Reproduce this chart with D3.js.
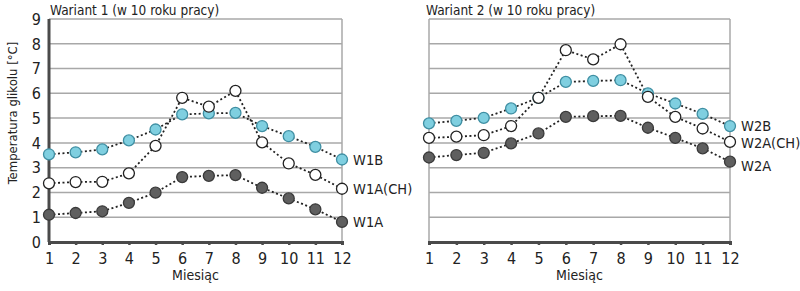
<!DOCTYPE html>
<html>
<head>
<meta charset="utf-8">
<script src="https://cdn.jsdelivr.net/npm/d3@7"></script>
<style>
  body { margin: 0; background: #fff; }
  text { font-family: "DejaVu Sans Condensed", "Liberation Sans Narrow", sans-serif; font-stretch: condensed; fill: #222; }
</style>
</head>
<body>
<div id="chart"></div>
<script>
// months and values
var months = [1, 2, 3, 4, 5, 6, 7, 8, 9, 10, 11, 12];
var yTicks = [0, 1, 2, 3, 4, 5, 6, 7, 8, 9];

var w1b   = [3.54, 3.62, 3.74, 4.10, 4.54, 5.15, 5.19, 5.21, 4.68, 4.27, 3.84, 3.33];
var w1ach = [2.37, 2.42, 2.43, 2.77, 3.88, 5.82, 5.46, 6.10, 4.02, 3.17, 2.71, 2.15];
var w1a   = [1.10, 1.17, 1.24, 1.58, 1.99, 2.62, 2.67, 2.70, 2.19, 1.76, 1.32, 0.81];

var w2b   = [4.79, 4.89, 5.01, 5.39, 5.82, 6.46, 6.50, 6.53, 6.00, 5.59, 5.17, 4.68];
var w2ach = [4.20, 4.25, 4.31, 4.68, 5.82, 7.74, 7.37, 7.98, 5.86, 5.05, 4.58, 4.04];
var w2a   = [3.41, 3.51, 3.60, 3.98, 4.38, 5.05, 5.08, 5.09, 4.61, 4.20, 3.78, 3.24];

var svgWidth = 800;
var svgHeight = 291;
var fontStack = '"DejaVu Sans Condensed", "Liberation Sans Narrow", sans-serif';

var svg = d3.select("#chart")
  .append("svg")
  .attr("width", svgWidth)
  .attr("height", svgHeight);

var styles = {
  B:  { fill: "#7fcfe0", stroke: "#3f8fa3" },
  CH: { fill: "#ffffff", stroke: "#222222" },
  A:  { fill: "#5f5f5f", stroke: "#3a3a3a" }
};

var y = d3.scaleLinear().domain([0, 9]).range([242, 19]);

function drawPanel(opts) {
  var x = d3.scaleLinear().domain([1, 12]).range([opts.x0, opts.x1]);
  var g = svg.append("g");

  // grid
  g.selectAll(".grid")
    .data(yTicks.filter(d => d > 0))
    .enter()
    .append("line")
    .attr("x1", opts.x0)
    .attr("x2", opts.x1)
    .attr("y1", d => y(d))
    .attr("y2", d => y(d))
    .attr("stroke", "#a8a8a8")
    .attr("stroke-width", 1.5);

  // right border
  g.append("line")
    .attr("x1", opts.x1).attr("x2", opts.x1)
    .attr("y1", y(9)).attr("y2", y(0))
    .attr("stroke", "#a8a8a8").attr("stroke-width", 1.5);

  // left border / axis
  g.append("line")
    .attr("x1", opts.x0).attr("x2", opts.x0)
    .attr("y1", y(9)).attr("y2", y(0))
    .attr("stroke", opts.showY ? "#4a4a4a" : "#a8a8a8")
    .attr("stroke-width", opts.showY ? 3 : 1.5);

  // bottom axis
  var xAxis = g.append("g")
    .attr("transform", `translate(0, ${y(0)})`)
    .call(d3.axisBottom(x).tickValues(months).tickSize(3).tickPadding(8).tickFormat(d3.format("d")));
  xAxis.select(".domain").attr("stroke", "#4a4a4a").attr("stroke-width", 3);
  xAxis.selectAll(".tick line").attr("stroke", "#4a4a4a").attr("stroke-width", 2.5);
  xAxis.selectAll(".tick text")
    .style("font-size", "16px")
    .attr("fill", "#222")
    .style("font-family", fontStack);

  if (opts.showY) {
    g.selectAll(".ylab")
      .data(yTicks)
      .enter()
      .append("text")
      .attr("x", 41)
      .attr("y", d => y(d))
      .attr("dy", "0.36em")
      .attr("text-anchor", "end")
      .style("font-size", "16px")
      .text(d => d);
  }

  // title
  g.append("text")
    .attr("x", opts.titleX)
    .attr("y", 15)
    .style("font-size", "13.5px")
    .text(opts.title);

  // x label
  g.append("text")
    .attr("x", (opts.x0 + opts.x1) / 2)
    .attr("y", 280)
    .attr("text-anchor", "middle")
    .style("font-size", "14px")
    .text("Miesiąc");

  var line = d3.line()
    .x((d, i) => x(months[i]))
    .y(d => y(d));

  opts.series.forEach(function(s) {
    g.append("path")
      .datum(s.values)
      .attr("d", line)
      .attr("fill", "none")
      .attr("stroke", "#222")
      .attr("stroke-width", 1.8)
      .attr("stroke-dasharray", "2,2.5");
  });

  opts.series.forEach(function(s) {
    g.selectAll(null)
      .data(s.values)
      .enter()
      .append("circle")
      .attr("cx", (d, i) => x(months[i]))
      .attr("cy", d => y(d))
      .attr("r", 5.5)
      .attr("fill", styles[s.kind].fill)
      .attr("stroke", styles[s.kind].stroke)
      .attr("stroke-width", 1.3);

    g.append("text")
      .attr("x", opts.x1 + 11)
      .attr("y", s.labelY)
      .attr("dy", "0.36em")
      .style("font-size", "14.5px")
      .text(s.name);
  });
}

drawPanel({
  x0: 49, x1: 342, showY: true, titleX: 50,
  title: "Wariant 1 (w 10 roku pracy)",
  series: [
    { name: "W1B", kind: "B", values: w1b, labelY: y(w1b[11]) },
    { name: "W1A(CH)", kind: "CH", values: w1ach, labelY: y(w1ach[11]) },
    { name: "W1A", kind: "A", values: w1a, labelY: y(w1a[11]) }
  ]
});

drawPanel({
  x0: 429, x1: 730, showY: false, titleX: 426,
  title: "Wariant 2 (w 10 roku pracy)",
  series: [
    { name: "W2B", kind: "B", values: w2b, labelY: y(w2b[11]) },
    { name: "W2A(CH)", kind: "CH", values: w2ach, labelY: y(w2ach[11]) + 1 },
    { name: "W2A", kind: "A", values: w2a, labelY: y(w2a[11]) + 4 }
  ]
});

// y axis title
svg.append("text")
  .attr("transform", "translate(17, 113) rotate(-90)")
  .attr("text-anchor", "middle")
  .style("font-size", "13px")
  .text("Temperatura glikolu [°C]");
</script>
</body>
</html>
